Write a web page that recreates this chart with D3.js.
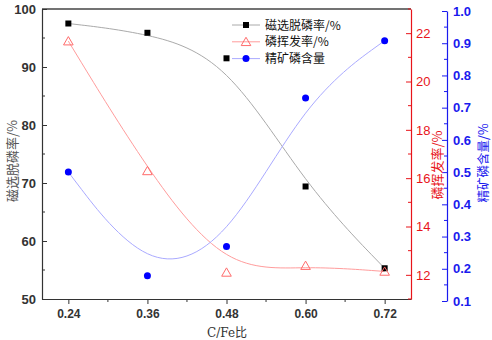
<!DOCTYPE html>
<html>
<head>
<meta charset="utf-8">
<script src="https://cdn.jsdelivr.net/npm/d3@7"></script>
<style>
  body { margin: 0; background: #fff; }
  svg { display: block; }
</style>
</head>
<body>
<svg id="chart" width="492" height="340"></svg>
<script>
// data
const ratios = [0.24, 0.36, 0.48, 0.60, 0.72];
const removalRate = [97.5, 95.9, 91.5, 69.4, 55.3];      // 磁选脱磷率/%
const volatilRate = [21.67, 16.3, 12.1, 12.38, 12.14];    // 磷挥发率/%
const phosContent = [0.50, 0.178, 0.269, 0.73, 0.908];    // 精矿磷含量
const xTicks = [0.24, 0.36, 0.48, 0.60, 0.72];
const xMinor = [0.30, 0.42, 0.54, 0.66];
const leftTicks = [50, 60, 70, 80, 90, 100];
const redTicks = [12, 14, 16, 18, 20, 22];
const blueTicks = [0.1, 0.2, 0.3, 0.4, 0.5, 0.6, 0.7, 0.8, 0.9, 1.0];
const legendNames = ['磁选脱磷率/%', '磷挥发率/%', '精矿磷含量'];

const svg = d3.select('#chart');
const plotL = 42, plotR = 411, plotT = 9, plotB = 299;
const blueAxisX = 447;

const x = d3.scaleLinear().domain([0.2, 0.76]).range([plotL, plotR]);
const yL = d3.scaleLinear().domain([50, 100]).range([plotB, plotT]);
const yR = d3.scaleLinear().domain([11, 23]).range([plotB, plotT]);
const yB = d3.scaleLinear().domain([0.1, 1.0]).range([301, 11]);

const numFont = 'Arial, "Liberation Sans", sans-serif';

function styleAxis(g, color, weight, size) {
  g.select('.domain').attr('stroke', color).attr('stroke-width', 1.2);
  g.selectAll('.tick line').attr('stroke', color);
  g.selectAll('.tick text')
    .attr('fill', color)
    .style('font-family', numFont)
    .style('font-size', size + 'px')
    .style('font-weight', weight);
}

// top border
svg.append('line')
  .attr('x1', plotL).attr('x2', plotR).attr('y1', plotT).attr('y2', plotT)
  .attr('stroke', '#444').attr('stroke-width', 1.5);

// bottom axis
const gx = svg.append('g').attr('transform', `translate(0,${plotB})`)
  .call(d3.axisBottom(x).tickValues(xTicks).tickFormat(d3.format('.2f'))
    .tickSizeInner(5).tickSizeOuter(0).tickPadding(5));
styleAxis(gx, '#333', 'bold', 12);
gx.selectAll('.minor').data(xMinor).enter().append('line')
  .attr('x1', d => x(d)).attr('x2', d => x(d)).attr('y1', 0).attr('y2', 3)
  .attr('stroke', '#333');

// left axis
const gl = svg.append('g').attr('transform', `translate(${plotL},0)`)
  .call(d3.axisLeft(yL).tickValues(leftTicks).tickSizeInner(-5).tickSizeOuter(0).tickPadding(6));
styleAxis(gl, '#333', 'bold', 13);
gl.selectAll('.minor').data(leftTicks.slice(0, -1).map(d => d + 5)).enter().append('line')
  .attr('y1', d => yL(d)).attr('y2', d => yL(d)).attr('x1', 0).attr('x2', 3)
  .attr('stroke', '#333');

// red right axis
const gr = svg.append('g').attr('transform', `translate(${plotR},0)`)
  .call(d3.axisRight(yR).tickValues(redTicks).tickSizeInner(-5).tickSizeOuter(0).tickPadding(5));
styleAxis(gr, '#e8141a', 'normal', 13);
gr.selectAll('.minor').data([11, 13, 15, 17, 19, 21, 23]).enter().append('line')
  .attr('y1', d => yR(d)).attr('y2', d => yR(d)).attr('x1', 0).attr('x2', -3)
  .attr('stroke', '#e8141a');

// blue right axis
const gb = svg.append('g').attr('transform', `translate(${blueAxisX},0)`)
  .call(d3.axisRight(yB).tickValues(blueTicks).tickFormat(d3.format('.1f'))
    .tickSizeInner(-5).tickSizeOuter(0).tickPadding(6));
styleAxis(gb, '#1a1aee', 'bold', 13);
gb.selectAll('.minor').data(blueTicks.slice(0, -1).map(d => d + 0.05)).enter().append('line')
  .attr('y1', d => yB(d)).attr('y2', d => yB(d)).attr('x1', 0).attr('x2', -3)
  .attr('stroke', '#1a1aee');

// axis titles
const cjkSans = '"Noto Sans CJK SC", sans-serif';
svg.append('text')
  .attr('transform', 'translate(17,161) rotate(-90)')
  .attr('text-anchor', 'middle')
  .style('font-family', cjkSans).style('font-size', '13px').attr('fill', '#555')
  .text('磁选脱磷率/%');
svg.append('text')
  .attr('transform', 'translate(442,165) rotate(-90)')
  .attr('text-anchor', 'middle')
  .style('font-family', cjkSans).style('font-size', '13px').attr('fill', '#e8141a')
  .text('磷挥发率/%');
svg.append('text')
  .attr('transform', 'translate(488,163) rotate(-90)')
  .attr('text-anchor', 'middle')
  .style('font-family', cjkSans).style('font-size', '12.5px').attr('fill', '#1a1aee')
  .text('精矿磷含量/%');
svg.append('text')
  .attr('x', 227).attr('y', 337)
  .attr('text-anchor', 'middle')
  .style('font-family', '"DejaVu Serif", "Noto Sans CJK SC", serif').style('font-size', '12px').attr('fill', '#333')
  .text('C/Fe比');

// curves (B-spline like Origin)
const series = [
  { vals: removalRate, y: yL, line: '#aaaaaa', color: '#000', shape: 'square' },
  { vals: volatilRate, y: yR, line: '#ff9c9c', color: '#ff6b6b', shape: 'triangle' },
  { vals: phosContent, y: yB, line: '#aaaaff', color: '#0000ff', shape: 'circle' }
];

series.forEach(s => {
  const pts = ratios.map((r, i) => [x(r), s.y(s.vals[i])]);
  svg.append('path')
    .attr('d', d3.line().curve(d3.curveBasis)(pts))
    .attr('fill', 'none').attr('stroke', s.line).attr('stroke-width', 1);
});

function drawMarker(g, shape, cx, cy, color) {
  if (shape === 'square') {
    g.append('rect').attr('x', cx - 3).attr('y', cy - 3).attr('width', 6).attr('height', 6).attr('fill', color);
  } else if (shape === 'triangle') {
    g.append('path')
      .attr('d', d3.symbol(d3.symbolTriangle, 40)())
      .attr('transform', `translate(${cx},${cy + 1})`)
      .attr('fill', 'none').attr('stroke', color).attr('stroke-width', 1);
  } else {
    g.append('circle').attr('cx', cx).attr('cy', cy).attr('r', 3.5).attr('fill', color);
  }
}

const marks = svg.append('g');
series.forEach(s => {
  ratios.forEach((r, i) => drawMarker(marks, s.shape, x(r), s.y(s.vals[i]), s.color));
});

// legend
const legend = svg.append('g');
series.forEach((s, i) => {
  const ly = 25 + i * 16.8;
  legend.append('line').attr('x1', 232).attr('x2', 260).attr('y1', ly).attr('y2', ly)
    .attr('stroke', s.line).attr('stroke-width', 1);
  drawMarker(legend, s.shape, 246, ly, s.color);
  legend.append('text')
    .attr('x', 265).attr('y', ly + 4.5)
    .style('font-family', cjkSans).style('font-size', '12px').attr('fill', '#111')
    .text(legendNames[i]);
});
</script>
</body>
</html>
